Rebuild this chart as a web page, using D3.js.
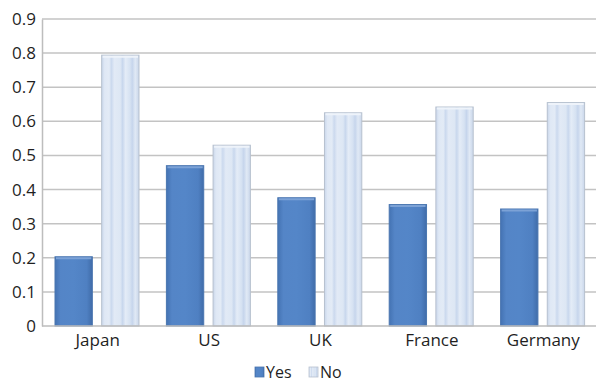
<!DOCTYPE html>
<html><head><meta charset="utf-8">
<script src="https://cdn.jsdelivr.net/npm/d3@7"></script>
<style>body{margin:0;background:#fff}svg{display:block}text{font-family:"Open Sans",sans-serif;fill:#1f1f1f}</style>
</head><body><svg id="c" width="596" height="384"></svg>
<script>
const categories = ["Japan","US","UK","France","Germany"];
const seriesNames = ["Yes","No"];
const yesValues = [0.203,0.47,0.376,0.356,0.343];
const noValues = [0.794,0.530,0.625,0.642,0.655];
const yTicks = [0,0.1,0.2,0.3,0.4,0.5,0.6,0.7,0.8,0.9];

const svg = d3.select("#c");
const defs = svg.append("defs");
const gy = defs.append("linearGradient").attr("id","gYes").attr("x1","0").attr("x2","1").attr("y1","0").attr("y2","0");
[[0,"#4473b3"],[0.15,"#5485c7"],[0.5,"#5486c8"],[0.85,"#4f80c2"],[1,"#406ca9"]].forEach(s=>gy.append("stop").attr("offset",s[0]).attr("stop-color",s[1]));
const gn = defs.append("linearGradient").attr("id","gNo").attr("x1","0").attr("x2","1").attr("y1","0").attr("y2","0");
[[0,"#c9d6ea"],[0.08,"#dfe8f5"],[0.2,"#e3ebf6"],[0.26,"#cbd9ee"],[0.34,"#e2eaf6"],[0.5,"#dde7f4"],[0.56,"#c8d7ed"],[0.64,"#e4ecf7"],[0.76,"#d6e2f2"],[0.82,"#c6d5ec"],[0.9,"#e0e9f5"],[1,"#c9d6ea"]].forEach(s=>gn.append("stop").attr("offset",s[0]).attr("stop-color",s[1]));

const y = d3.scaleLinear().domain([0,0.9]).range([326,19]);
const x0 = d3.scaleBand().domain(categories).range([42,599]);
const x1 = d3.scaleBand().domain(seriesNames).range([13,97]).paddingInner(0.2);

// gridlines
svg.append("g").selectAll("line").data(yTicks.slice(1)).join("line")
  .attr("x1",42).attr("x2",596).attr("y1",d=>y(d)).attr("y2",d=>y(d))
  .attr("stroke","#c3c3c3").attr("stroke-width",1.5);

// y axis
const ya = svg.append("g").attr("transform","translate(42,0)")
  .call(d3.axisLeft(y).tickValues(yTicks).tickFormat(d=>d===0?"0":d3.format(".1f")(d)).tickSize(0).tickPadding(6));
ya.select(".domain").attr("stroke","#bdbdbd").attr("stroke-width",1.5);
ya.selectAll("text").attr("font-size","17px").attr("font-family","Open Sans, sans-serif").attr("fill","#1f1f1f");

// bars
const g = svg.append("g");
const data = categories.map((c,i)=>({c, vals:[{s:"Yes",v:yesValues[i]},{s:"No",v:noValues[i]}]}));
const grp = g.selectAll("g").data(data).join("g").attr("transform",d=>`translate(${x0(d.c)},0)`);
grp.selectAll("rect").data(d=>d.vals).join("rect")
  .attr("x",d=>x1(d.s)).attr("width",x1.bandwidth())
  .attr("y",d=>y(d.v)).attr("height",d=>y(0)-y(d.v))
  .attr("fill",d=>d.s==="Yes"?"url(#gYes)":"url(#gNo)")
  .attr("stroke",d=>d.s==="Yes"?"#4a76b0":"#b7c1cf").attr("stroke-width",1);
// top highlight
grp.selectAll("line.top").data(d=>d.vals).join("line").attr("class","top")
  .attr("x1",d=>x1(d.s)+1).attr("x2",d=>x1(d.s)+x1.bandwidth()-1)
  .attr("y1",d=>y(d.v)+1.5).attr("y2",d=>y(d.v)+1.5)
  .attr("stroke",d=>d.s==="Yes"?"#7ca2d6":"#eef3fa").attr("stroke-width",2);

// x axis
const xa = svg.append("g").attr("transform","translate(0,326)")
  .call(d3.axisBottom(x0).tickSize(0).tickPadding(8));
xa.select(".domain").attr("stroke","#bdbdbd").attr("stroke-width",1.5).attr("d","M42,0H596");
xa.selectAll("text").attr("font-size","17px").attr("font-family","Open Sans, sans-serif").attr("fill","#1f1f1f");

// legend
const legendX = [255,309];
const lg = svg.append("g").selectAll("g").data(seriesNames).join("g")
  .attr("transform",(d,i)=>`translate(${legendX[i]},367)`);
lg.append("rect").attr("width",9).attr("height",10)
  .attr("fill",(d,i)=>i===0?"url(#gYes)":"url(#gNo)")
  .attr("stroke",(d,i)=>i===0?"#4a76b0":"#b7c1cf").attr("stroke-width",0.8);
lg.append("text").attr("x",11).attr("y",10.5).attr("font-size","16px").text(d=>d);
</script></body></html>
